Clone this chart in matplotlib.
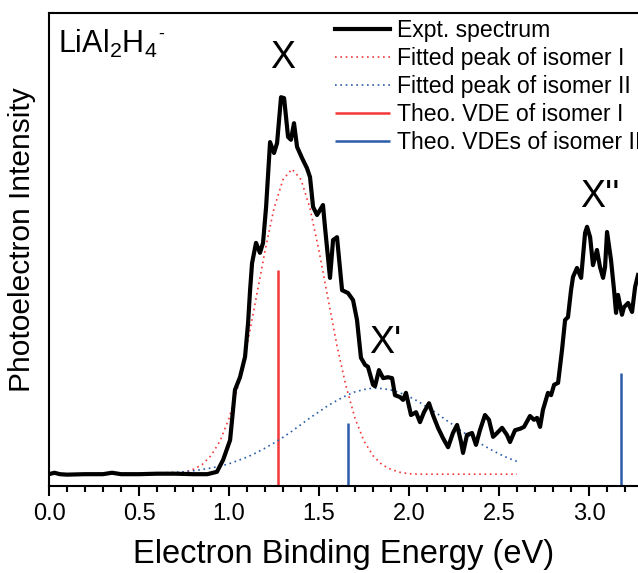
import matplotlib
matplotlib.use('Agg')
import matplotlib.pyplot as plt
from matplotlib.ticker import MultipleLocator

plt.rcParams['font.family'] = ['Liberation Sans', 'DejaVu Sans']
plt.rcParams['mathtext.fontset'] = 'custom'
plt.rcParams['mathtext.rm'] = 'Liberation Sans'
plt.rcParams['mathtext.it'] = 'Liberation Sans'

# experimental spectrum (eV, arb. intensity)
expt_x = [0.00, 0.03, 0.06, 0.10, 0.20, 0.30, 0.35, 0.40, 0.50, 0.60, 0.70, 0.80, 0.88,
          0.933, 0.967, 1.006, 1.033, 1.061, 1.089, 1.106, 1.117, 1.128, 1.150, 1.172,
          1.189, 1.206, 1.228, 1.250, 1.267, 1.289, 1.306, 1.328, 1.344, 1.361, 1.378,
          1.406, 1.433, 1.450, 1.467, 1.489, 1.522, 1.533, 1.561, 1.578, 1.600, 1.628,
          1.661, 1.689, 1.711, 1.733, 1.756, 1.772, 1.800, 1.811, 1.833, 1.856, 1.883,
          1.906, 1.922, 1.950, 1.967, 1.983, 2.011, 2.039, 2.061, 2.083, 2.111, 2.133,
          2.161, 2.189, 2.217, 2.244, 2.267, 2.289, 2.300, 2.322, 2.350, 2.372, 2.394,
          2.422, 2.444, 2.467, 2.489, 2.517, 2.544, 2.561, 2.589, 2.617, 2.639, 2.672,
          2.694, 2.711, 2.728, 2.744, 2.772, 2.789, 2.806, 2.828, 2.850, 2.867, 2.883,
          2.900, 2.911, 2.933, 2.956, 2.978, 2.989, 3.006, 3.022, 3.044, 3.061, 3.078,
          3.089, 3.100, 3.122, 3.139, 3.150, 3.161, 3.183, 3.194, 3.217, 3.239, 3.256,
          3.272]
expt_y = [2.5, 2.8, 2.5, 2.4, 2.5, 2.5, 2.8, 2.5, 2.5, 2.6, 2.6, 2.5, 2.5,
          3.0, 5.5, 9.7, 20.3, 23.0, 27.3, 34.5, 41.4, 47.1, 51.4, 49.3,
          51.4, 59.0, 72.7, 70.4, 72.5, 82.2, 82.0, 73.8, 73.2, 76.7, 71.7,
          69.3, 67.2, 65.3, 59.0, 57.3, 59.4, 54.8, 44.0, 52.0, 52.6, 41.4,
          40.8, 39.3, 35.1, 27.1, 25.6, 25.2, 21.4, 21.1, 24.5, 22.8, 23.0,
          22.8, 19.2, 18.8, 18.2, 19.7, 15.0, 15.6, 13.5, 15.6, 17.5, 15.0,
          12.3, 10.1, 8.2, 11.2, 12.9, 9.3, 7.0, 10.8, 11.2, 8.7, 11.8,
          15.0, 14.0, 10.4, 11.2, 12.3, 10.8, 9.3, 11.8, 12.1, 12.5, 14.8,
          14.0, 14.4, 12.5, 16.1, 19.7, 19.2, 21.4, 21.8, 28.8, 35.1, 35.7,
          41.4, 44.2, 46.1, 44.0, 53.5, 54.8, 52.6, 46.7, 49.9, 46.3, 44.0,
          46.3, 53.7, 47.8, 41.4, 36.6, 40.4, 36.2, 37.8, 38.7, 36.8, 42.1,
          44.6]

# fitted peaks
fit_x = [0.0, 0.1, 0.2, 0.3, 0.4, 0.5, 0.6, 0.65, 0.7, 0.75, 0.8, 0.85, 0.9, 0.95,
         1.0, 1.05, 1.1, 1.15, 1.2, 1.25, 1.3, 1.35, 1.4, 1.45, 1.5, 1.55, 1.6,
         1.65, 1.7, 1.75, 1.8, 1.85, 1.9, 1.95, 2.0, 2.05, 2.1, 2.15, 2.2, 2.25,
         2.3, 2.35, 2.4, 2.45, 2.5, 2.55, 2.6]
fit1_y = [2.5, 2.5, 2.5, 2.5, 2.5, 2.5, 2.5, 2.5, 2.6, 2.9, 3.5, 4.5, 6.4, 9.5,
          14.3, 21.1, 29.6, 39.6, 49.7, 58.7, 64.8, 67.0, 64.8, 58.7, 49.7, 39.6, 29.6,
          21.1, 14.3, 9.5, 6.4, 4.5, 3.5, 2.9, 2.6, 2.5, 2.5, 2.5, 2.5, 2.5,
          2.5, 2.5, 2.5, 2.5, 2.5, 2.5, 2.5]
fit2_y = [2.5, 2.5, 2.5, 2.5, 2.5, 2.6, 2.7, 2.8, 2.9, 3.0, 3.2, 3.5, 3.8, 4.2,
          4.7, 5.4, 6.1, 7.0, 8.0, 9.1, 10.3, 11.6, 13.0, 14.4, 15.7, 17.0, 18.1,
          19.1, 19.9, 20.4, 20.7, 20.6, 20.3, 19.7, 18.9, 17.9, 16.7, 15.5, 14.1, 12.8,
          11.4, 10.1, 8.9, 7.8, 6.8, 5.9, 5.2]

# theoretical VDEs
vde1_x = [1.27]
vde1_h = [45.7]
vde2_x = [1.66, 3.18]
vde2_h = [13.3, 23.9]

labels = ['X', "X'", "X''"]
label_x = [1.30, 1.87, 3.06]
label_y = [90.5, 30.2, 61.2]

red = '#F5373A'
blue = '#2A5CAA'

fig = plt.figure(figsize=(6.38, 5.73), dpi=100)
ax = fig.add_axes([49 / 638, 87 / 573, 1 - 49 / 638, 473 / 573])

ax.plot(expt_x, expt_y, color='black', lw=3.0, solid_joinstyle='round',
        label='Expt. spectrum', zorder=4)
ax.plot(fit_x, fit1_y, color=red, lw=1.2, ls=(0, (1, 2.2)),
        label='Fitted peak of isomer I', zorder=3)
ax.plot(fit_x, fit2_y, color=blue, lw=1.2, ls=(0, (1, 2.2)),
        label='Fitted peak of isomer II', zorder=3)
ax.vlines(vde1_x, 0, vde1_h, color=red, lw=1.8, label='Theo. VDE of isomer I', zorder=2)
ax.vlines(vde2_x, 0, vde2_h, color=blue, lw=1.8, label='Theo. VDEs of isomer II', zorder=2)

for t, x, y in zip(labels, label_x, label_y):
    ax.text(x, y, t, fontsize=27, ha='center', va='center')
ax.text(0.05, 91.6, r'LiAl$_2$H$_4$', fontsize=22, ha='left', va='baseline')
ax.text(0.625, 95.4, '-', fontsize=13, ha='center', va='center')

ax.set_xlim(0, 3.272)
ax.set_ylim(0, 100)
ax.xaxis.set_major_locator(MultipleLocator(0.5))
ax.xaxis.set_minor_locator(MultipleLocator(0.1))
ax.set_yticks([])
ax.tick_params(axis='x', which='major', length=7.5, width=1.5, labelsize=17, pad=5)
ax.tick_params(axis='x', which='minor', length=4, width=1.5)
for s in ['left', 'bottom', 'top']:
    ax.spines[s].set_linewidth(1.5)
ax.spines['right'].set_visible(False)
ax.set_xlabel('Electron Binding Energy (eV)', fontsize=23.5, labelpad=10)
ax.set_ylabel('Photoelectron Intensity', fontsize=21.5)
ax.yaxis.set_label_coords(-0.022, 0.52)

ax.legend(loc='upper left', bbox_to_anchor=(0.476, 1.0), frameon=False,
          fontsize=16.6, handlelength=2.4, handletextpad=0.3, labelspacing=0.22,
          borderaxespad=0.0, borderpad=0.25)

fig.savefig('out.png', dpi=100)
